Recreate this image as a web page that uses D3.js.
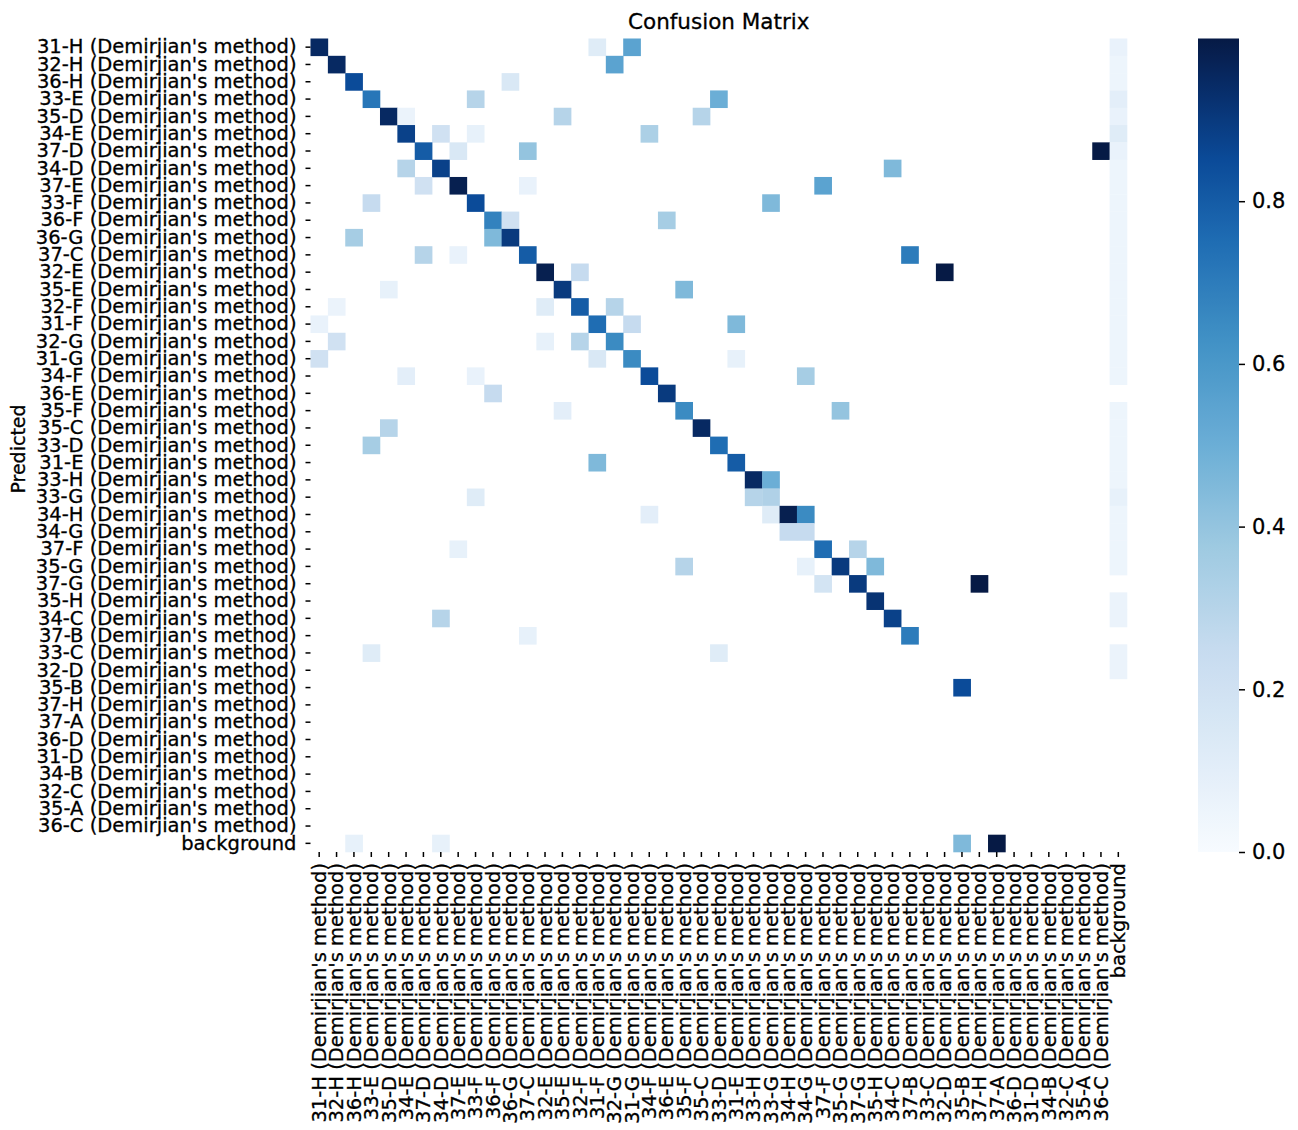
<!DOCTYPE html>
<html><head><meta charset="utf-8">
<script src="https://cdn.jsdelivr.net/npm/d3@7"></script>
<style>
body{margin:0;background:#fff}
text{font-family:"DejaVu Sans",sans-serif;fill:#000}
</style>
</head><body>
<svg id="chart" width="1298" height="1130"></svg>
<script>
// ---- data ----
const classCodes = ["31-H","32-H","36-H","33-E","35-D","34-E","37-D","34-D","37-E","33-F","36-F","36-G","37-C","32-E","35-E","32-F","31-F","32-G","31-G","34-F","36-E","35-F","35-C","33-D","31-E","33-H","33-G","34-H","34-G","37-F","35-G","37-G","35-H","34-C","37-B","33-C","32-D","35-B","37-H","37-A","36-D","31-D","34-B","32-C","35-A","36-C","background"];
const labelSuffix = " (Demirjian's method)";
// [predicted row index, true column index, value]
const cells = [
 [0,0,0.95],[0,16,0.12],[0,18,0.55],[0,46,0.07],
 [1,1,0.95],[1,17,0.55],[1,46,0.05],
 [2,2,0.85],[2,11,0.15],[2,46,0.05],
 [3,3,0.72],[3,9,0.3],[3,23,0.5],[3,46,0.1],
 [4,4,0.95],[4,5,0.06],[4,14,0.3],[4,22,0.3],[4,46,0.07],
 [5,5,0.88],[5,7,0.2],[5,9,0.08],[5,19,0.33],[5,46,0.12],
 [6,6,0.8],[6,8,0.15],[6,12,0.4],[6,45,1.0],[6,46,0.07],
 [7,5,0.3],[7,7,0.88],[7,33,0.45],[7,46,0.05],
 [8,6,0.2],[8,8,0.98],[8,12,0.07],[8,29,0.55],[8,46,0.05],
 [9,3,0.25],[9,9,0.85],[9,26,0.45],[9,46,0.05],
 [10,10,0.68],[10,11,0.2],[10,20,0.35],[10,46,0.05],
 [11,2,0.35],[11,10,0.45],[11,11,0.9],[11,46,0.05],
 [12,6,0.3],[12,8,0.07],[12,12,0.8],[12,34,0.7],[12,46,0.05],
 [13,13,0.98],[13,15,0.25],[13,36,1.0],[13,46,0.05],
 [14,4,0.08],[14,14,0.9],[14,21,0.45],[14,46,0.05],
 [15,1,0.06],[15,13,0.12],[15,15,0.8],[15,17,0.3],[15,46,0.05],
 [16,0,0.07],[16,16,0.75],[16,18,0.25],[16,24,0.45],[16,46,0.05],
 [17,1,0.2],[17,13,0.08],[17,15,0.3],[17,17,0.65],[17,46,0.05],
 [18,0,0.2],[18,16,0.15],[18,18,0.65],[18,24,0.08],[18,46,0.05],
 [19,5,0.1],[19,9,0.07],[19,19,0.85],[19,28,0.35],[19,46,0.05],
 [20,10,0.25],[20,20,0.9],
 [21,14,0.1],[21,21,0.65],[21,30,0.4],[21,46,0.05],
 [22,4,0.3],[22,22,0.95],[22,46,0.05],
 [23,3,0.35],[23,23,0.75],[23,46,0.05],
 [24,16,0.45],[24,24,0.8],[24,46,0.05],
 [25,25,0.95],[25,26,0.5],[25,46,0.05],
 [26,9,0.12],[26,25,0.3],[26,26,0.32],[26,46,0.08],
 [27,19,0.1],[27,26,0.12],[27,27,0.98],[27,28,0.65],[27,46,0.05],
 [28,27,0.25],[28,28,0.25],[28,46,0.05],
 [29,8,0.08],[29,29,0.75],[29,31,0.3],[29,46,0.05],
 [30,21,0.3],[30,28,0.08],[30,30,0.9],[30,32,0.45],[30,46,0.05],
 [31,29,0.18],[31,31,0.9],[31,38,1.0],
 [32,32,0.92],[32,46,0.06],
 [33,7,0.3],[33,33,0.88],[33,46,0.06],
 [34,12,0.08],[34,34,0.7],
 [35,3,0.12],[35,23,0.12],[35,46,0.06],
 [36,46,0.06],
 [37,37,0.85],
 [46,2,0.08],[46,7,0.08],[46,37,0.45],[46,39,1.0]
];
const colorbarTicks = [0, 0.2, 0.4, 0.6, 0.8];
const titleText = "Confusion Matrix";
const yLabelText = "Predicted";

(function () {
// ---- layout ----
const svg = d3.select("#chart");
const mLeft = 310.5, mRight = 1127, mTop = 38.5, mBottom = 852;
const fontSize = 19.5;
const labels = classCodes.map(c => c === "background" ? c : c + labelSuffix);

const x = d3.scaleBand().domain(labels).range([mLeft, mRight]).paddingInner(0);
const y = d3.scaleBand().domain(labels).range([mTop, mBottom]).paddingInner(0);
// Blues colormap (slightly deeper at the dark end, as in the reference)
const color = d3.scaleLinear()
  .domain([0, 0.125, 0.25, 0.375, 0.5, 0.625, 0.75, 0.85, 0.93, 1])
  .range(["#f7fbff","#deebf7","#c6dbef","#9ecae1","#6baed6","#4292c6","#1f6db3","#0b4b99","#082f6d","#061a45"])
  .interpolate(d3.interpolateRgb)
  .clamp(true);

svg.append("g").selectAll("rect").data(cells).join("rect")
  .attr("x", d => x(labels[d[1]]))
  .attr("y", d => y(labels[d[0]]))
  .attr("width", x.bandwidth() + 0.3)
  .attr("height", y.bandwidth() + 0.3)
  .attr("fill", d => color(d[2]));

// y axis
const gy = svg.append("g").attr("transform", `translate(${mLeft},0)`)
  .call(d3.axisLeft(y).tickSize(5).tickPadding(9));
gy.select(".domain").remove();
gy.selectAll(".tick line").attr("stroke", "#000").attr("stroke-width", 1.5);
gy.selectAll(".tick text").style("font-size", fontSize + "px").attr("fill", "#000")
  .attr("stroke", "#000").attr("stroke-width", 0.3);

// x axis
const gx = svg.append("g").attr("transform", `translate(0,${mBottom})`)
  .call(d3.axisBottom(x).tickSize(5).tickPadding(9));
gx.select(".domain").remove();
gx.selectAll(".tick line").attr("stroke", "#000").attr("stroke-width", 1.5);
gx.selectAll(".tick text")
  .style("font-size", fontSize + "px").attr("fill", "#000")
  .attr("stroke", "#000").attr("stroke-width", 0.3)
  .attr("transform", "rotate(-90)")
  .attr("x", -11).attr("y", 0).attr("dy", "0.35em")
  .attr("text-anchor", "end");

// title and y label
svg.append("text").attr("x", (mLeft + mRight) / 2).attr("y", 29)
  .attr("text-anchor", "middle").style("font-size", "21.5px")
  .attr("stroke", "#000").attr("stroke-width", 0.3).text(titleText);
svg.append("text").attr("transform", `translate(25,${449}) rotate(-90)`)
  .attr("text-anchor", "middle").style("font-size", "19px")
  .attr("stroke", "#000").attr("stroke-width", 0.3).text(yLabelText);

// colorbar
const cbX = 1198, cbW = 41;
const cbScale = d3.scaleLinear().domain([0, 1]).range([mBottom, mTop]);
const defs = svg.append("defs");
const grad = defs.append("linearGradient").attr("id", "cbgrad")
  .attr("x1", 0).attr("y1", 1).attr("x2", 0).attr("y2", 0);
d3.range(0, 1.0001, 0.025).forEach(t => {
  grad.append("stop").attr("offset", t).attr("stop-color", color(t));
});
svg.append("rect").attr("x", cbX).attr("y", mTop).attr("width", cbW)
  .attr("height", mBottom - mTop).attr("fill", "url(#cbgrad)");
const gc = svg.append("g").attr("transform", `translate(${cbX + cbW},0)`)
  .call(d3.axisRight(cbScale).tickValues(colorbarTicks).tickFormat(d3.format(".1f")).tickSize(6).tickPadding(7));
gc.select(".domain").remove();
gc.selectAll(".tick line").attr("stroke", "#000").attr("stroke-width", 1.5);
gc.selectAll(".tick text").style("font-size", "21px").attr("fill", "#000")
  .attr("stroke", "#000").attr("stroke-width", 0.3);
})();
</script>
</body></html>
